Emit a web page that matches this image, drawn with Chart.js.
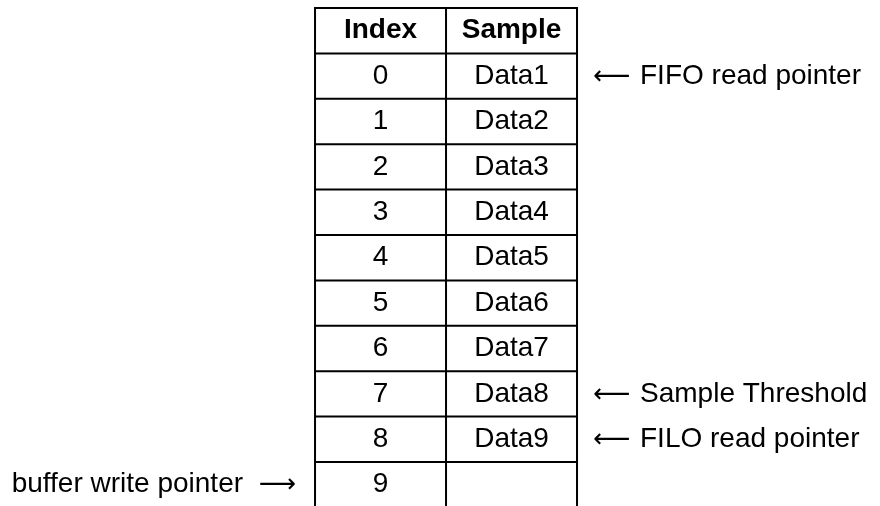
<!DOCTYPE html>
<html>
<head>
<meta charset="utf-8">
<script src="https://cdn.jsdelivr.net/npm/chart.js@4"></script>
<style>
html,body{margin:0;padding:0;background:#fff;}
canvas{display:block;}
</style>
</head>
<body>
<canvas id="grafico" width="880" height="506"></canvas>
<script>
const cabecalhos = ["Index", "Sample"];
const indices = ["0","1","2","3","4","5","6","7","8","9"];
const amostras = ["Data1","Data2","Data3","Data4","Data5","Data6","Data7","Data8","Data9",""];

const ponteiroLinhas = [0, 7, 8, 9];
const ponteiroTextos = ["FIFO read pointer", "Sample Threshold", "FILO read pointer", "buffer write pointer"];
const ponteiroLados = ["direita", "direita", "direita", "esquerda"];

const fonte = "Liberation Sans, Arial, Helvetica, sans-serif";

// bordas da tabela: cabecalho na linha -1, dados de 0 a 9
const bordasLinhas = [];
for(let i = -1; i <= indices.length - 1; i++){
bordasLinhas.push(i - 0.5);
}
const bordasColunas = [0, 1, 2];

const linhas = [];

bordasLinhas.forEach(y=>{
linhas.push({
type:"line",
data:[{x:0,y:y},{x:2,y:y}],
borderColor:"#000",
borderWidth:2,
borderCapStyle:"square",
pointRadius:0
});
});

bordasColunas.forEach(x=>{
linhas.push({
type:"line",
data:[{x:x,y:-1.5},{x:x,y:11}],
borderColor:"#000",
borderWidth:2,
borderCapStyle:"square",
pointRadius:0
});
});

const textosTabela = {
id:"textosTabela",
afterDatasetsDraw(chart){
const ctx = chart.ctx;
const sx = chart.scales.x;
const sy = chart.scales.y;
ctx.save();
ctx.fillStyle = "#000";
ctx.textBaseline = "middle";
ctx.textAlign = "center";

ctx.font = "bold 28px " + fonte;
cabecalhos.forEach((c,i)=>{
ctx.fillText(c, sx.getPixelForValue(i + 0.5), sy.getPixelForValue(-1));
});

ctx.font = "28px " + fonte;
indices.forEach((v,i)=>{
ctx.fillText(v, sx.getPixelForValue(0.5), sy.getPixelForValue(i));
});
amostras.forEach((v,i)=>{
ctx.fillText(v, sx.getPixelForValue(1.5), sy.getPixelForValue(i));
});

ponteiroLinhas.forEach((r,i)=>{
const y = sy.getPixelForValue(r);
if(ponteiroLados[i] === "direita"){
const x0 = sx.getPixelForValue(2);
ctx.textAlign = "left";
ctx.font = "26px DejaVu Sans";
ctx.fillText("\u27F5", x0 + 16, y + 1);
ctx.font = "28px " + fonte;
ctx.fillText(ponteiroTextos[i], x0 + 63, y);
}
else{
const x0 = sx.getPixelForValue(0);
ctx.textAlign = "right";
ctx.font = "26px DejaVu Sans";
ctx.fillText("\u27F6", x0 - 19, y + 1);
ctx.font = "28px " + fonte;
ctx.fillText(ponteiroTextos[i], x0 - 72, y);
}
});

ctx.restore();
}
};

new Chart(document.getElementById("grafico"), {
type:"scatter",
data:{ datasets: linhas },
options:{
responsive:false,
animation:false,
layout:{ padding:0 },
plugins:{
legend:{ display:false },
tooltip:{ enabled:false }
},
scales:{
x:{ type:"linear", display:false, min:-2.405, max:4.313 },
y:{ type:"linear", display:false, reverse:true, min:-1.676, max:9.469 }
}
},
plugins:[textosTabela]
});
</script>
</body>
</html>
